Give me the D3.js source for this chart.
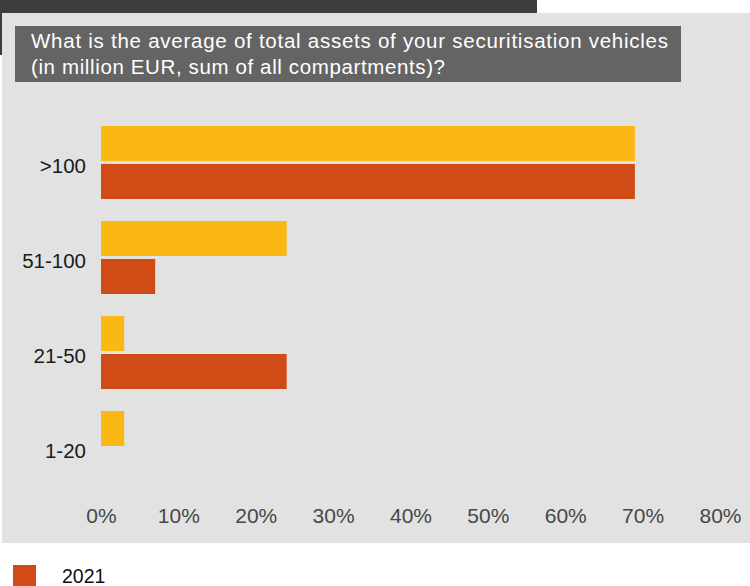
<!DOCTYPE html>
<html>
<head>
<meta charset="utf-8">
<script src="https://cdn.jsdelivr.net/npm/d3@7"></script>
<style>
  html, body { margin: 0; padding: 0; background: #ffffff; }
  svg { display: block; font-family: "Liberation Sans", Arial, Helvetica, sans-serif; }
</style>
</head>
<body>
<svg id="chart" width="750" height="586"></svg>
<script>
// Size classes of the average total assets (million EUR)
const categories = [">100", "51-100", "21-50", "1-20"];
// Share of respondents per size class, one array per survey year
const values2022 = [0.69, 0.24, 0.03, 0.03];
const values2021 = [0.69, 0.07, 0.24, 0.00];
const seriesNames = ["2022", "2021"];
const seriesColors = ["#FBB713", "#D04B16"];
const tickValues = [0, 0.1, 0.2, 0.3, 0.4, 0.5, 0.6, 0.7, 0.8];
const titleLines = [
  "What is the average of total assets of your securitisation vehicles",
  "(in million EUR, sum of all compartments)?"
];
const titleLineWidths = [637, 414];
const legendNames = ["2021"];

const svg = d3.select("#chart");
const W = 750, H = 586;

// Page frame: dark header strip and the grey chart panel
svg.append("rect").attr("x", 0).attr("y", 0).attr("width", 537).attr("height", 55).attr("fill", "#3D3D3D");
svg.append("rect").attr("x", 2).attr("y", 13).attr("width", W - 2).attr("height", 530).attr("fill", "#E2E2E2");

// Question box
svg.append("rect").attr("x", 15).attr("y", 26).attr("width", 666).attr("height", 56).attr("fill", "#646464");
const title = svg.append("text").attr("fill", "#ffffff").attr("font-size", 20.5);
titleLines.forEach((line, i) => {
  title.append("tspan")
    .attr("x", 31).attr("y", 48 + i * 26)
    .attr("textLength", titleLineWidths[i])
    .attr("lengthAdjust", "spacing")
    .text(line);
});

// Scales
const x = d3.scaleLinear().domain([0, 0.8]).range([101, 720]);
const y = d3.scaleBand().domain(categories).range([126, 484]).paddingInner(22 / 95).paddingOuter(0);
const ySub = d3.scaleBand().domain(seriesNames).range([0, y.bandwidth()]).paddingInner(3 / 38);
const color = d3.scaleOrdinal().domain(seriesNames).range(seriesColors);

const rows = categories.map((c, i) => ({
  category: c,
  items: [
    { series: "2022", value: values2022[i] },
    { series: "2021", value: values2021[i] }
  ]
}));

// Bars
const groups = svg.append("g").selectAll("g")
  .data(rows).join("g")
  .attr("transform", d => `translate(0,${y(d.category)})`);
groups.selectAll("rect")
  .data(d => d.items.filter(it => it.value > 0)).join("rect")
  .attr("x", x(0))
  .attr("y", d => ySub(d.series))
  .attr("width", d => x(d.value) - x(0))
  .attr("height", ySub.bandwidth())
  .attr("fill", d => color(d.series));

// Category axis
const yAxis = svg.append("g")
  .attr("transform", "translate(86,0)")
  .call(d3.axisLeft(y).tickSize(0).tickPadding(0));
yAxis.select(".domain").remove();
yAxis.selectAll("text")
  .attr("font-family", "Liberation Sans, Arial, sans-serif")
  .attr("font-size", 20.5)
  .attr("fill", "#1a1a1a")
  .attr("dy", "0.38em")
  .attr("transform", "translate(0,3)");

// Value axis
const xAxis = svg.append("g")
  .attr("transform", "translate(0,500)")
  .call(d3.axisBottom(x).tickValues(tickValues).tickFormat(d3.format(".0%")).tickSize(0).tickPadding(0));
xAxis.select(".domain").remove();
xAxis.selectAll("text")
  .attr("font-family", "Liberation Sans, Arial, sans-serif")
  .attr("font-size", 21)
  .attr("fill", "#474747")
  .attr("dy", "1.1em");

// Legend
const legend = svg.append("g").selectAll("g")
  .data(legendNames).join("g")
  .attr("transform", (d, i) => `translate(13,${565 + i * 40})`);
legend.append("rect").attr("width", 23).attr("height", 23).attr("fill", d => color(d));
legend.append("text")
  .attr("x", 49).attr("y", 18)
  .attr("font-size", 19.5).attr("fill", "#111111")
  .text(d => d);
</script>
</body>
</html>
